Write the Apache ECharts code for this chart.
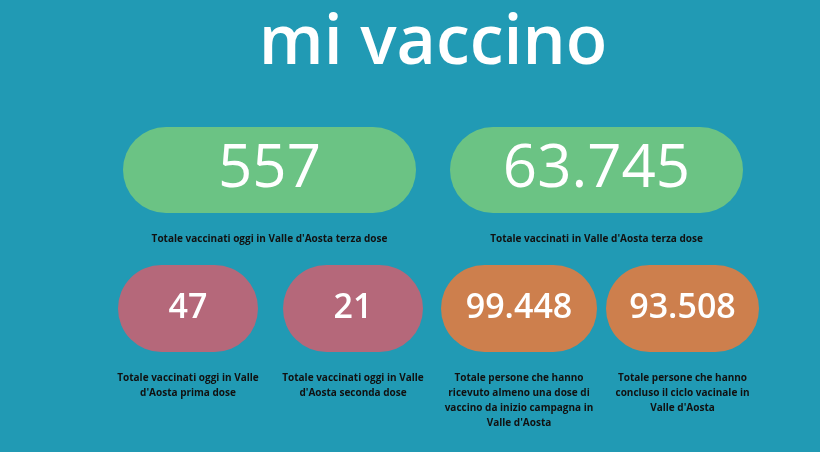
<!DOCTYPE html>
<html>
<head>
<meta charset="UTF-8">
<title>mi vaccino</title>
<script src="https://cdn.jsdelivr.net/npm/echarts@6/dist/echarts.min.js"></script>
<style>html,body{margin:0;padding:0;background:#219ab4;}</style>
</head>
<body>
<div id="main" style="width:820px;height:452px;"></div>
<script>
var title = 'mi vaccino';
var values = ['557', '63.745', '47', '21', '99.448', '93.508'];
var labels = [
    'Totale vaccinati oggi in Valle d\'Aosta terza dose',
    'Totale vaccinati in Valle d\'Aosta terza dose',
    'Totale vaccinati oggi in Valle\nd\'Aosta prima dose',
    'Totale vaccinati oggi in Valle\nd\'Aosta seconda dose',
    'Totale persone che hanno\nricevuto almeno una dose di\nvaccino da inizio campagna in\nValle d\'Aosta',
    'Totale persone che hanno\nconcluso il ciclo vacinale in\nValle d\'Aosta'
];
// pill boxes: [x, y, w, h]
var boxes = [
    [123, 127, 293, 86], [450, 127, 293, 86],
    [118, 265, 140, 87], [283, 265, 140, 87],
    [441, 265, 156, 87], [606, 265, 153, 87]
];
var colors = ['#6bc384', '#6bc384', '#b5687a', '#b5687a', '#cd7f4d', '#cd7f4d'];
var sizes = [60, 60, 34, 34, 34, 34];

var myChart = echarts.init(document.getElementById('main'));
var elements = [{
    type: 'text', x: 433, y: 45,
    style: { text: title, fill: '#fff', align: 'center', verticalAlign: 'middle',
             font: '600 68px "Open Sans", sans-serif' }
}];
boxes.forEach(function (b, i) {
    var cx = b[0] + b[2] / 2;
    elements.push({
        type: 'rect',
        shape: { x: b[0], y: b[1], width: b[2], height: b[3], r: b[3] / 2 },
        style: { fill: colors[i] }
    });
    elements.push({
        type: 'text', x: cx, y: b[1] + b[3] / 2,
        style: { text: values[i], fill: '#fff', align: 'center', verticalAlign: 'middle',
                 font: (i < 2 ? '500 ' : '600 ') + sizes[i] + 'px "Open Sans", sans-serif' }
    });
    elements.push({
        type: 'text', x: cx, y: b[1] + b[3] + 19,
        style: { text: labels[i], fill: '#111', align: 'center', verticalAlign: 'top',
                 lineHeight: 15, font: 'bold 10px "Open Sans", sans-serif' }
    });
});
myChart.setOption({ backgroundColor: '#219ab4', graphic: elements });
</script>
</body>
</html>
